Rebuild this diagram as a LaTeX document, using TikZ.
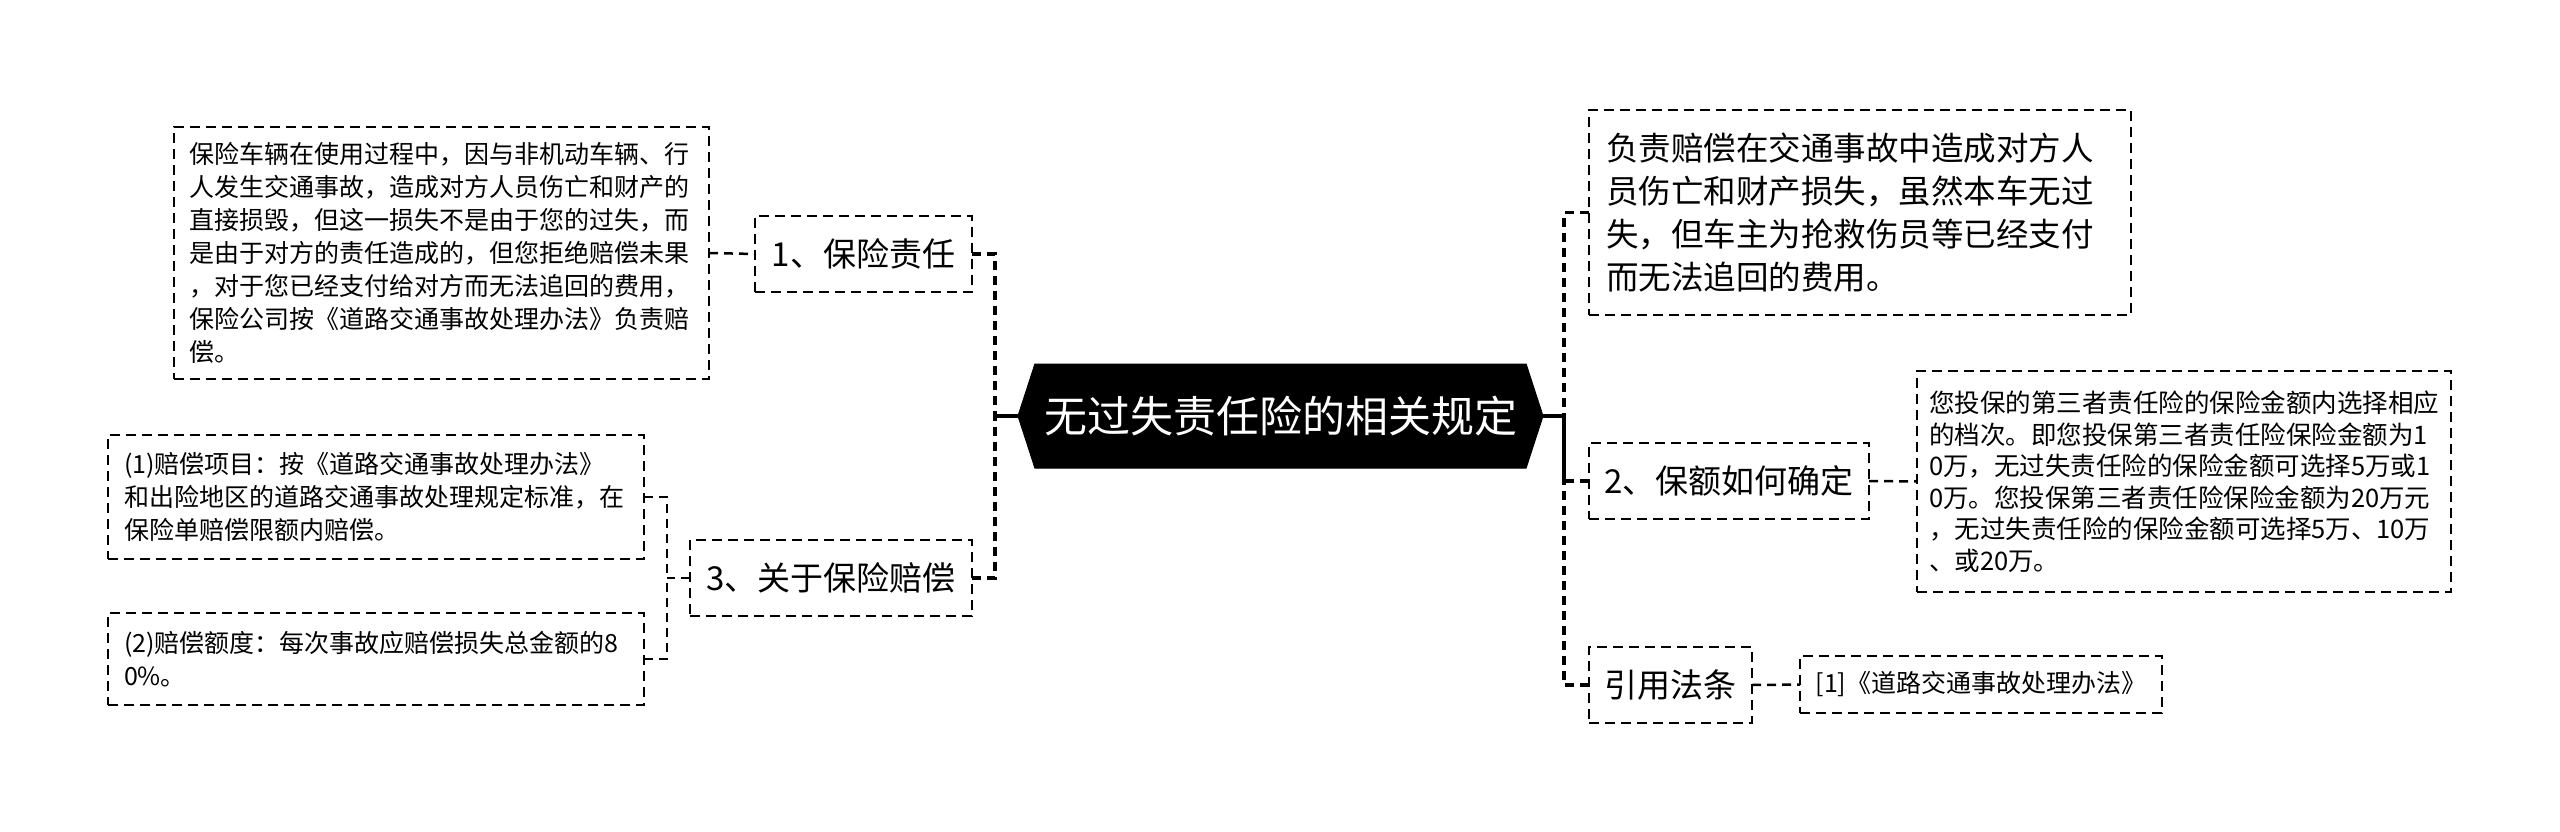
\documentclass[tikz,border=0pt]{standalone}
\usepackage{fontspec}
\setmainfont{Noto Sans CJK SC}
\usetikzlibrary{shapes.symbols}
\begin{document}
\begin{tikzpicture}[x=1pt,y=-1pt,
  box/.style={draw=black, line width=2pt, dash pattern=on 10pt off 6pt, rectangle, outer sep=0pt, align=left, text=black},
  mid/.style={box, inner xsep=0pt, inner ysep=0pt, minimum height=76pt, font=\fontsize{33}{40}\selectfont},
  detail/.style={box, font=\fontsize{25}{33}\selectfont},
  trunk/.style={draw=black, line width=3.5pt, dash pattern=on 9pt off 6pt},
  conn/.style={draw=black, line width=2.5pt, dash pattern=on 9pt off 6pt},
  solidc/.style={draw=black, line width=3.5pt},
  rootbox/.style={signal, signal to=east and west, signal pointer angle=144, fill=black, draw=black, line width=1pt, outer sep=0pt, inner sep=0pt, minimum width=525pt, minimum height=104pt, text=white, font=\fontsize{43}{50}\selectfont}
]
\useasboundingbox (0,0) rectangle (2560,832);

% root
\node[rootbox] (root) at (1280.5,416) {无过失责任险的相关规定};

% left side
\node[mid, minimum width=217pt] (L1) at (863.5,254) {1、保险责任};
\node[mid, minimum width=282pt] (L3) at (831,578) {3、关于保险赔偿};
\node[detail, inner xsep=15pt, inner ysep=0pt, text width=505pt, minimum width=535pt, minimum height=252pt] (A) at (441.5,253)
 {保险车辆在使用过程中，因与非机动车辆、行\\人发生交通事故，造成对方人员伤亡和财产的\\直接损毁，但这一损失不是由于您的过失，而\\是由于对方的责任造成的，但您拒绝赔偿未果\\，对于您已经支付给对方而无法追回的费用，\\保险公司按《道路交通事故处理办法》负责赔\\偿。};
\node[detail, inner xsep=16pt, inner ysep=0pt, text width=504pt, minimum width=536pt, minimum height=124pt] (P1) at (376,497)
 {(1)赔偿项目：按《道路交通事故处理办法》\\和出险地区的道路交通事故处理规定标准，在\\保险单赔偿限额内赔偿。};
\node[detail, inner xsep=16pt, inner ysep=0pt, text width=504pt, minimum width=536pt, minimum height=92pt] (P2) at (376,659)
 {(2)赔偿额度：每次事故应赔偿损失总金额的8\\0\%。};

% right side
\node[box, inner xsep=17pt, inner ysep=0pt, text width=508pt, minimum width=542pt, minimum height=205pt, font=\fontsize{32.5}{43}\selectfont] (R1) at (1860,212.5)
 {负责赔偿在交通事故中造成对方人\\员伤亡和财产损失，虽然本车无过\\失，但车主为抢救伤员等已经支付\\而无法追回的费用。};
\node[mid, minimum width=280pt] (R2) at (1729,481) {2、保额如何确定};
\node[detail, inner xsep=12pt, inner ysep=0pt, text width=510pt, minimum width=534pt, minimum height=221pt, font=\fontsize{25.5}{31.5}\selectfont] (R2d) at (2184,481.5)
 {您投保的第三者责任险的保险金额内选择相应\\的档次。即您投保第三者责任险保险金额为1\\0万，无过失责任险的保险金额可选择5万或1\\0万。您投保第三者责任险保险金额为20万元\\，无过失责任险的保险金额可选择5万、10万\\、或20万。};
\node[mid, minimum width=163pt] (R3) at (1670.5,685) {引用法条};
\node[detail, inner xsep=0pt, inner ysep=0pt, minimum width=362pt, minimum height=57pt] (R3d) at (1981,684.5)
 {[1]《道路交通事故处理办法》};

% junctions
\coordinate (jl) at (995,416);
\coordinate (jr) at (1564,416);
\coordinate (js) at (667,578);

% connectors
\draw[solidc] (root.west) -- (jl);
\draw[solidc] (root.east) -- (jr);
\draw[trunk] (L1.east) -| (jl);
\draw[trunk] (L3.east) -| (jl);
\draw[trunk] (R1.west) -| (jr);
\draw[trunk] (R2.west) -| (jr);
\draw[trunk] (R3.west) -| (jr);
\draw[conn] (A.east) -- (L1.west);
\draw[conn] (L3.west) -- (js);
\draw[conn] (P1.east) -| (js);
\draw[conn] (P2.east) -| (js);
\draw[conn] (R2.east) -- (R2d.west);
\draw[conn] (R3.east) -- (R3d.west);
\end{tikzpicture}
\end{document}
